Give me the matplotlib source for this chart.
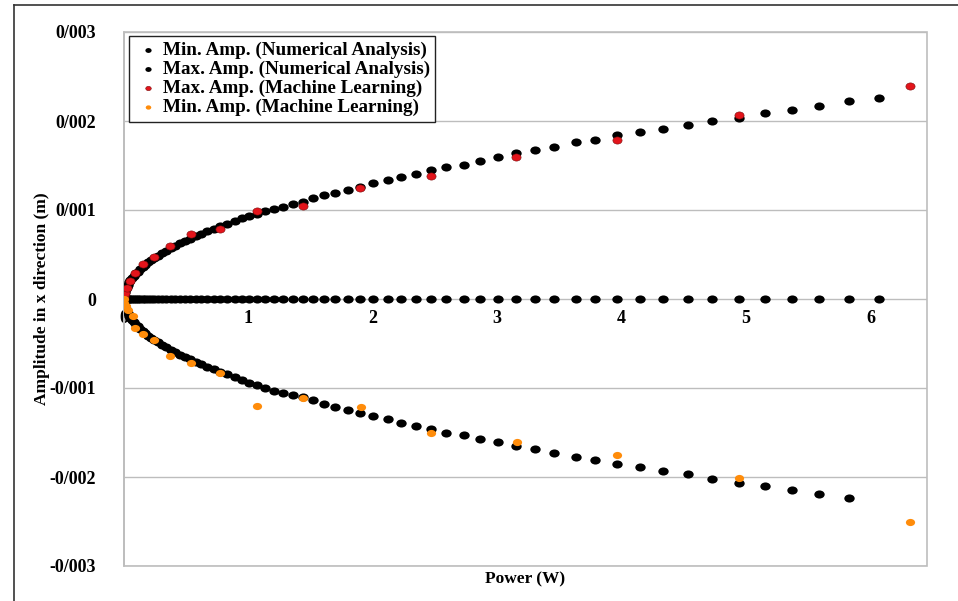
import matplotlib
matplotlib.use("Agg")
import matplotlib.pyplot as plt
from matplotlib.lines import Line2D
from matplotlib.patches import Rectangle
from matplotlib.path import Path

plt.rcParams['font.family'] = ['Liberation Serif', 'DejaVu Serif']
plt.rcParams['font.weight'] = 'bold'

# ---------------- data ----------------
power_na = [0.001, 0.004, 0.008, 0.014, 0.021, 0.03, 0.04, 0.052, 0.065, 0.08,
            0.095, 0.11, 0.13, 0.15, 0.17, 0.195, 0.22, 0.245, 0.275, 0.305,
            0.34, 0.375, 0.41, 0.45, 0.49, 0.53, 0.575, 0.62, 0.67, 0.72, 0.77,
            0.83, 0.89, 0.949, 1.007, 1.067, 1.136, 1.206, 1.28, 1.356, 1.437,
            1.52, 1.61, 1.70, 1.80, 1.90, 2.00, 2.12, 2.23, 2.35, 2.47,
            2.59, 2.73, 2.86, 3.01, 3.15, 3.30, 3.46, 3.63, 3.79, 3.96,
            4.15, 4.33, 4.53, 4.73, 4.94, 5.15, 5.37, 5.59, 5.83, 6.07]

max_amp_na = [0.000029, 0.000059, 0.000083, 0.000110, 0.000135, 0.000161, 0.000186,
              0.000212, 0.000237, 0.000263, 0.000287, 0.000308, 0.000335, 0.000360,
              0.000383, 0.000411, 0.000436, 0.000460, 0.000488, 0.000514, 0.000542,
              0.000570, 0.000595, 0.000624, 0.000651, 0.000677, 0.000705, 0.000732,
              0.000761, 0.000789, 0.000816,
              0.000843, 0.000872, 0.000907, 0.000936, 0.000958, 0.000984, 0.001008,
              0.001037, 0.001064, 0.001093, 0.001138, 0.001165, 0.00119, 0.00123,
              0.001255, 0.0013, 0.001337, 0.00137, 0.0014, 0.00145, 0.00148,
              0.00151, 0.00155, 0.00159, 0.00164, 0.00167, 0.00171, 0.00176,
              0.00179, 0.00184, 0.00188, 0.00191, 0.00196, 0.00200, 0.00203,
              0.00209, 0.00212, 0.00217, 0.00222, 0.00226]

power_na_min = power_na[:-1]
min_amp_na = [-0.000029, -0.000059, -0.000083, -0.000110, -0.000135, -0.000161, -0.000186,
              -0.000212, -0.000237, -0.000263, -0.000287, -0.000308, -0.000335, -0.000360,
              -0.000383, -0.000411, -0.000436, -0.000460, -0.000488, -0.000514, -0.000542,
              -0.000570, -0.000595, -0.000624, -0.000651, -0.000677, -0.000705, -0.000732,
              -0.000761, -0.000789, -0.000816,
              -0.000845, -0.000875, -0.00091, -0.00094, -0.00097, -0.001, -0.00103,
              -0.00106, -0.00108, -0.0011, -0.00114, -0.001183, -0.00121, -0.00125,
              -0.001284, -0.001318, -0.001351, -0.00139, -0.001424, -0.001457, -0.001502,
              -0.001532, -0.001573, -0.00161, -0.001655, -0.001689, -0.00173, -0.001775,
              -0.001812, -0.00185, -0.00189, -0.00193, -0.00197, -0.00202, -0.00207,
              -0.0021, -0.00215, -0.00219, -0.00224]

zero_amp_na = [0.0] * len(power_na)

power_ml_max = [0.002, 0.008, 0.021, 0.048, 0.088, 0.15, 0.241, 0.37, 0.539, 0.772,
                1.067, 1.437, 1.90, 2.47, 3.15, 3.96, 4.94, 6.32]
max_amp_ml = [0.00003, 0.000071, 0.000127, 0.000202, 0.000289, 0.000397, 0.000472,
              0.000596, 0.000727, 0.00079, 0.000989, 0.001045, 0.00125, 0.00138,
              0.0016, 0.00179, 0.00207, 0.00239]

power_ml_min = [0.0, 0.004, 0.015, 0.035, 0.07, 0.088, 0.15, 0.241, 0.37, 0.539, 0.772,
                1.067, 1.437, 1.905, 2.47, 3.16, 3.96, 4.94, 6.32]
min_amp_ml = [0.0, -0.00004, -0.00008, -0.00012, -0.000195, -0.000326, -0.00039,
              -0.000457, -0.000637, -0.00072, -0.00083, -0.0012, -0.00111, -0.00121,
              -0.00151, -0.00161, -0.00175, -0.00201, -0.00251]

y_ticks = [-0.003, -0.002, -0.001, 0.0, 0.001, 0.002, 0.003]
y_tick_labels = ['-0/003', '-0/002', '-0/001', '0', '0/001', '0/002', '0/003']
x_ticks = [0, 1, 2, 3, 4, 5, 6]
x_tick_labels = ['0', '1', '2', '3', '4', '5', '6']

labels = ['Min. Amp. (Numerical Analysis)', 'Max. Amp. (Numerical Analysis)',
          'Max. Amp. (Machine Learning)', 'Min. Amp. (Machine Learning)']

# ---------------- figure ----------------
W, H = 958, 601
fig = plt.figure(figsize=(W / 100, H / 100), dpi=100)
L, R, T, B = 124, 927, 32, 566
ax = fig.add_axes([L / W, 1 - B / H, (R - L) / W, (B - T) / H])

# slightly flattened round marker (the original dots are a little wider than tall)
_c = Path.unit_circle()
oval = Path(_c.vertices * [1.0, 0.78], _c.codes)

grid_c = '#BDBDBD'
ms = 56
ax.scatter(power_na_min, min_amp_na, s=ms, marker=oval, color='black', zorder=3,
           label=labels[0], linewidths=0)
ax.scatter(power_na, max_amp_na, s=ms, marker=oval, color='black', zorder=3,
           label=labels[1], linewidths=0)
ax.scatter(power_na, zero_amp_na, s=ms, marker=oval, color='black', zorder=3, linewidths=0)
ax.scatter(power_ml_max, max_amp_ml, s=44, marker=oval, color='#E3141B', edgecolors='#7a0c0c',
           linewidths=0.4, zorder=4, label=labels[2])
ax.scatter(power_ml_min, min_amp_ml, s=44, marker=oval, color='#FF8C0A', zorder=4,
           label=labels[3], linewidths=0)

ax.set_xlim(0, 6.455)
ax.set_ylim(-0.003, 0.003)

ax.set_yticks(y_ticks)
ax.set_yticklabels(y_tick_labels)
ax.set_xticks(x_ticks)
ax.set_xticklabels(x_tick_labels)

ax.yaxis.grid(True, color=grid_c, linewidth=1.0, zorder=0)
ax.set_axisbelow(True)

for s in ['top', 'right', 'bottom']:
    ax.spines[s].set_visible(False)
ax.spines['bottom'].set_position(('data', 0))
ax.spines['left'].set_color(grid_c)
ax.spines['left'].set_linewidth(1.2)
ax.add_patch(Rectangle((0, 0), 1, 1, transform=ax.transAxes, fill=False,
                       edgecolor=grid_c, linewidth=1.2, zorder=1, clip_on=False))

ax.tick_params(axis='y', length=0, pad=20, labelsize=13)
ax.tick_params(axis='x', length=0, pad=8, labelsize=13)
for t in ax.get_xticklabels() + ax.get_yticklabels():
    t.set_fontweight('bold')

ax.set_ylabel('Amplitude in x direction (m)', fontsize=12.5, fontweight='bold')
ax.yaxis.set_label_coords(-0.092, 0.5)
ax.set_xlabel('Power (W)', fontsize=12.5, fontweight='bold')
ax.xaxis.set_label_coords(0.5, -0.01)

leg = ax.legend(loc='upper left', bbox_to_anchor=((129 - L) / (R - L), (B - 36) / (B - T)),
                frameon=True, fancybox=False, framealpha=1, edgecolor='#222222',
                prop={'weight': 'bold', 'size': 13.8}, handlelength=1.4, handletextpad=0.05,
                borderpad=0.3, labelspacing=0.08, borderaxespad=0, scatterpoints=1,
                markerscale=0.6)
leg.get_frame().set_linewidth(1.0)

# figure frame (left and top edges)
fig.add_artist(Line2D([14 / W, 14 / W], [0, 1 - 5 / H], transform=fig.transFigure,
                      color='#333333', linewidth=1.2))
fig.add_artist(Line2D([14 / W, 1], [1 - 5 / H, 1 - 5 / H], transform=fig.transFigure,
                      color='#333333', linewidth=1.2))

fig.savefig('out.png', dpi=100)
